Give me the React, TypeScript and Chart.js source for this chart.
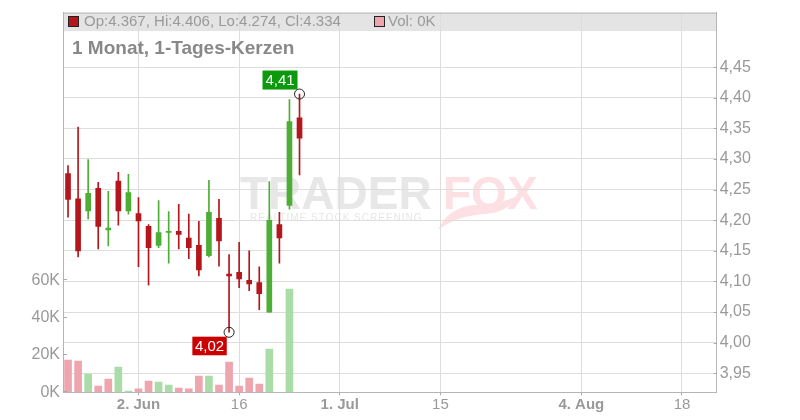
import React, { useEffect, useRef } from 'react';
import { Chart, registerables } from 'chart.js';

Chart.register(...registerables);

// daily candles (trading day index 0..23)
const opens = [4.276, 4.235, 4.215, 4.252, 4.184, 4.264, 4.215, 4.211, 4.19, 4.159, 4.18, 4.182, 4.171, 4.159, 4.142, 4.203, 4.112, 4.115, 4.102, 4.098, 4.05, 4.193, 4.224, 4.367];
const highs = [4.289, 4.352, 4.299, 4.262, 4.247, 4.278, 4.275, 4.237, 4.193, 4.232, 4.214, 4.226, 4.21, 4.198, 4.265, 4.234, 4.144, 4.164, 4.15, 4.124, 4.263, 4.213, 4.397, 4.406];
const lows = [4.205, 4.14, 4.202, 4.153, 4.158, 4.192, 4.21, 4.124, 4.094, 4.155, 4.13, 4.153, 4.137, 4.109, 4.14, 4.125, 4.017, 4.09, 4.085, 4.054, 4.05, 4.13, 4.218, 4.274];
const closes = [4.234, 4.15, 4.244, 4.19, 4.187, 4.215, 4.245, 4.199, 4.155, 4.18, 4.182, 4.177, 4.155, 4.119, 4.213, 4.166, 4.109, 4.104, 4.096, 4.08, 4.2, 4.171, 4.361, 4.334];
const volumesK = [17.3, 16.7, 9.8, 3.4, 7.1, 13.5, 0.7, 1.8, 6.0, 5.5, 3.9, 2.3, 1.8, 8.7, 8.7, 3.9, 16.2, 3.4, 7.6, 4.4, 23.2, 0, 55.3, 0];

const dateTickIndex = [7, 17, 27, 37, 51, 61];
const dateTickLabels = ['2. Jun', '16', '1. Jul', '15', '4. Aug', '18'];
const priceTicks = [3.95, 4.0, 4.05, 4.1, 4.15, 4.2, 4.25, 4.3, 4.35, 4.4, 4.45];
const volumeTicks = [0, 20, 40, 60];

const RED = '#b5161b';
const GREEN = '#4cae34';
const VOL_RED = '#eea5ae';
const VOL_GREEN = '#a9dca6';
const FONT = '"Liberation Sans", Arial, sans-serif';

const fmt = (v: number) => v.toFixed(2).replace('.', ',');

const overlayPlugin = {
  id: 'overlay',
  beforeDraw(chart: any) {
    const { ctx, chartArea: a } = chart;
    ctx.save();
    // header bar
    ctx.fillStyle = '#e4e4e4';
    ctx.fillRect(a.left, a.top, a.right - a.left, 18.5);

    // watermark
    ctx.textBaseline = 'alphabetic';
    ctx.textAlign = 'left';
    ctx.font = `bold 46px ${FONT}`;
    ctx.fillStyle = '#e7e7e7';
    ctx.fillText('TRADER', 240, 208.5);
    ctx.fillStyle = '#fde0e3';
    ctx.fillText('FOX', 443, 208.5);
    // fox tail
    ctx.beginPath();
    ctx.moveTo(438, 230);
    ctx.quadraticCurveTo(448, 207, 475, 205);
    ctx.quadraticCurveTo(500, 204, 518, 196);
    ctx.quadraticCurveTo(508, 212, 486, 214);
    ctx.quadraticCurveTo(458, 215, 438, 230);
    ctx.fill();
    ctx.font = `10px ${FONT}`;
    (ctx as any).letterSpacing = '1px';
    ctx.fillStyle = '#e6e6e6';
    ctx.textBaseline = 'middle';
    ctx.fillText('REALTIME STOCK SCREENING', 250, 218.5);
    (ctx as any).letterSpacing = '0px';
    ctx.restore();
  },
  afterDraw(chart: any) {
    const { ctx, chartArea: a, scales } = chart;
    const x = scales.x;
    const y = scales.y;
    const yv = scales.yVol;
    ctx.save();

    // frame top line
    ctx.strokeStyle = '#b5b5b5';
    ctx.lineWidth = 1;
    ctx.beginPath();
    ctx.moveTo(a.left, a.top + 0.5);
    ctx.lineTo(a.right, a.top + 0.5);
    ctx.stroke();

    // inward tick marks
    ctx.strokeStyle = '#aaa';
    ctx.beginPath();
    priceTicks.forEach((v) => {
      const py = Math.round(y.getPixelForValue(v)) + 0.5;
      ctx.moveTo(a.right - 3, py);
      ctx.lineTo(a.right, py);
    });
    volumeTicks.forEach((v) => {
      const py = Math.round(yv.getPixelForValue(v)) - 0.5;
      ctx.moveTo(a.left, py);
      ctx.lineTo(a.left + 4, py);
    });
    ctx.stroke();

    // legend in header
    ctx.fillStyle = RED;
    ctx.fillRect(68.5, 16.5, 10, 10);
    ctx.strokeStyle = '#222';
    ctx.strokeRect(68.5, 16.5, 10, 10);
    ctx.fillStyle = VOL_RED;
    ctx.fillRect(374.5, 16.5, 10, 10);
    ctx.strokeRect(374.5, 16.5, 10, 10);
    const last = opens.length - 1;
    ctx.font = `15px ${FONT}`;
    ctx.fillStyle = '#999';
    ctx.textBaseline = 'middle';
    ctx.textAlign = 'left';
    ctx.fillText(
      `Op:${opens[last].toFixed(3)}, Hi:${highs[last].toFixed(3)}, Lo:${lows[last].toFixed(3)}, Cl:${closes[last].toFixed(3)}`,
      84,
      22
    );
    ctx.fillText(`Vol: ${Math.round(volumesK[last])}K`, 388, 22);

    // title
    ctx.font = `bold 19px ${FONT}`;
    ctx.fillStyle = '#888';
    ctx.fillText('1 Monat, 1-Tages-Kerzen', 72, 49);

    // high / low markers
    let hi = 0;
    let lo = 0;
    highs.forEach((v, i) => { if (v > highs[hi]) hi = i; });
    lows.forEach((v, i) => { if (v < lows[lo]) lo = i; });
    const hx = x.getPixelForValue(hi);
    const hy = y.getPixelForValue(highs[hi]);
    const lx = x.getPixelForValue(lo);
    const ly = y.getPixelForValue(lows[lo]);

    ctx.strokeStyle = '#222';
    ctx.beginPath();
    ctx.arc(hx, hy, 5, 0, Math.PI * 2);
    ctx.stroke();
    ctx.beginPath();
    ctx.arc(lx, ly, 5, 0, Math.PI * 2);
    ctx.stroke();

    ctx.font = `15px ${FONT}`;
    ctx.textAlign = 'center';
    ctx.fillStyle = '#0b9a0b';
    ctx.fillRect(hx - 37, hy - 23.5, 35, 19);
    ctx.fillStyle = '#fff';
    ctx.fillText(fmt(highs[hi]), hx - 19.5, hy - 13.5);

    ctx.fillStyle = '#cc0000';
    ctx.fillRect(lx - 36.7, ly + 4.4, 34.4, 18.6);
    ctx.fillStyle = '#fff';
    ctx.fillText(fmt(lows[lo]), lx - 19.5, ly + 14.2);

    ctx.restore();
  },
};

const CandleChart: React.FC = () => {
  const canvasRef = useRef<HTMLCanvasElement | null>(null);
  const chartRef = useRef<Chart | null>(null);

  useEffect(() => {
    if (!canvasRef.current) return;
    const ctx = canvasRef.current.getContext('2d');
    if (!ctx) return;
    if (chartRef.current) chartRef.current.destroy();

    const up = opens.map((o, i) => closes[i] >= o);
    // volume colour follows close vs previous close
    const volUp = closes.map((c, i) => (i === 0 ? false : c >= closes[i - 1]));

    chartRef.current = new Chart(ctx, {
      type: 'bar',
      data: {
        datasets: [
          {
            label: 'body',
            data: opens.map((o, i) => ({ x: i, y: [o, closes[i]] })) as any,
            backgroundColor: up.map((u) => (u ? GREEN : RED)),
            barThickness: 5,
            grouped: false,
            yAxisID: 'y',
            order: 1,
          },
          {
            label: 'wick',
            data: lows.map((l, i) => ({ x: i, y: [l, highs[i]] })) as any,
            backgroundColor: up.map((u) => (u ? GREEN : RED)),
            barThickness: 1,
            grouped: false,
            yAxisID: 'y',
            order: 2,
          },
          {
            label: 'volume',
            data: volumesK.map((v, i) => ({ x: i, y: v })) as any,
            backgroundColor: volUp.map((u) => (u ? VOL_GREEN : VOL_RED)),
            barThickness: 7,
            grouped: false,
            yAxisID: 'yVol',
            order: 3,
          },
        ],
      },
      options: {
        animation: false,
        responsive: true,
        maintainAspectRatio: false,
        layout: { padding: { top: 11.5, left: 0, right: 0, bottom: 0 } },
        font: { family: FONT },
        plugins: {
          legend: { display: false },
          tooltip: { enabled: false },
        },
        scales: {
          x: {
            type: 'linear',
            min: -0.5,
            max: 64.45,
            offset: false,
            grid: { color: '#dddddd', offset: false, tickLength: 3, tickColor: '#aaa' },
            border: { color: '#b5b5b5' },
            afterBuildTicks: (scale: any) => {
              scale.ticks = dateTickIndex.map((v) => ({ value: v }));
            },
            afterFit: (scale: any) => {
              scale.height = 27.7;
            },
            ticks: {
              autoSkip: false,
              maxRotation: 0,
              padding: 1,
              color: '#999',
              font: (c: any) => {
                const lbl = dateTickLabels[dateTickIndex.indexOf(c.tick?.value)] || '';
                return { family: FONT, size: 15, weight: lbl.includes('.') ? 'bold' : 'normal' };
              },
              callback: (v: any) => dateTickLabels[dateTickIndex.indexOf(Number(v))] ?? '',
            },
          },
          y: {
            position: 'right',
            min: 3.919,
            max: 4.539,
            grid: { color: '#dddddd', drawTicks: false },
            border: { color: '#b5b5b5' },
            afterBuildTicks: (scale: any) => {
              scale.ticks = priceTicks.map((v) => ({ value: v }));
            },
            afterFit: (scale: any) => {
              scale.width = 83.3;
            },
            ticks: {
              padding: 3,
              color: '#999',
              font: { family: FONT, size: 16 },
              callback: (v: any) => fmt(Number(v)),
            },
          },
          yVol: {
            position: 'left',
            min: 0,
            max: 203.6,
            grid: { display: false, drawTicks: false },
            border: { color: '#b5b5b5' },
            afterBuildTicks: (scale: any) => {
              scale.ticks = volumeTicks.map((v) => ({ value: v }));
            },
            afterFit: (scale: any) => {
              scale.width = 63;
            },
            ticks: {
              padding: 3,
              color: '#999',
              font: { family: FONT, size: 16 },
              callback: (v: any) => `${v}K`,
            },
          },
        },
      },
      plugins: [overlayPlugin],
    });

    return () => {
      if (chartRef.current) {
        chartRef.current.destroy();
        chartRef.current = null;
      }
    };
  }, []);

  return (
    <div style={{ position: 'fixed', left: 0, top: 0, width: 800, height: 420, background: '#fff' }}>
      <canvas ref={canvasRef}></canvas>
    </div>
  );
};

export default function App() {
  return <CandleChart />;
}
